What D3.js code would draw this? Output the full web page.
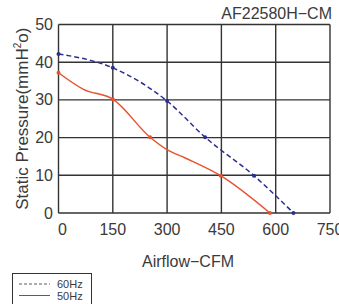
<!DOCTYPE html>
<html>
<head>
<meta charset="utf-8">
<script src="https://cdn.jsdelivr.net/npm/d3@7"></script>
<style>
  body { margin: 0; background: #fff; }
  svg { display: block; }
  text { font-family: "Liberation Sans", Arial, sans-serif; fill: #3a3a3a; }
</style>
</head>
<body>
<svg class="chart"></svg>
<script>
// airflow (CFM) / static pressure (mmH2O)
var flow60 = [0, 150, 300, 405, 540, 649];
var press60 = [42.2, 38.5, 29.7, 20.1, 9.9, 0];
var flow50 = [0, 150, 253, 448, 584];
var press50 = [37.2, 30.2, 20.1, 9.9, 0];
// extra points read along the 50Hz curve between the markers
var flow50Curve = [0, 69, 150, 253, 300, 350, 448, 584];
var press50Curve = [37.2, 32.8, 30.2, 20.1, 16.8, 14.6, 9.9, 0];
var xTicks = [0, 150, 300, 450, 600, 750];
var yTicks = [0, 10, 20, 30, 40, 50];
var seriesNames = ["60Hz", "50Hz"];

var width = 339, height = 304;
var margin = {top: 24.5, right: 9, bottom: 91, left: 58.5};

var svg = d3.select(".chart")
    .attr("width", width)
    .attr("height", height);

var x = d3.scaleLinear().domain([0, 750]).range([margin.left, width - margin.right]);
var y = d3.scaleLinear().domain([0, 50]).range([height - margin.bottom, margin.top]);

// grid
var grid = svg.append("g").attr("stroke", "#333").attr("stroke-width", 1.4);
grid.selectAll(".vx").data(xTicks).enter().append("line")
    .attr("x1", d => x(d)).attr("x2", d => x(d))
    .attr("y1", y(0)).attr("y2", y(50));
grid.selectAll(".hy").data(yTicks).enter().append("line")
    .attr("x1", x(0)).attr("x2", x(750))
    .attr("y1", d => y(d)).attr("y2", d => y(d));

// tick labels
svg.selectAll(".ylab").data(yTicks).enter().append("text")
    .attr("x", 53).attr("y", d => y(d) + 5.5)
    .attr("text-anchor", "end")
    .style("font-size", "16px")
    .text(d => d);
svg.selectAll(".xlab").data(xTicks).enter().append("text")
    .attr("x", d => x(d) + (d === 0 ? 4 : 0)).attr("y", 235)
    .attr("text-anchor", "middle")
    .style("font-size", "16px")
    .text(d => d);

// axis titles
svg.append("text")
    .attr("transform", "translate(28," + ((y(0) + y(50)) / 2) + ") rotate(-90)")
    .attr("text-anchor", "middle")
    .style("font-size", "17px")
    .html('Static Pressure(mmH<tspan dy="-7" style="font-size:10px">2</tspan><tspan dy="7">o)</tspan>');
svg.append("text")
    .attr("x", 188).attr("y", 267)
    .attr("text-anchor", "middle")
    .style("font-size", "16px")
    .text("Airflow\u2212CFM");
svg.append("text")
    .attr("x", 332).attr("y", 18.5)
    .attr("text-anchor", "end")
    .style("font-size", "16px")
    .text("AF22580H\u2212CM");

// curves
var line = d3.line()
    .x(d => x(d[0])).y(d => y(d[1]))
    .curve(d3.curveMonotoneX);

var s60 = d3.zip(flow60, press60), s50 = d3.zip(flow50, press50);

svg.append("path").datum(d3.zip(flow50Curve, press50Curve))
    .attr("d", line).attr("fill", "none")
    .attr("stroke", "#e8532f").attr("stroke-width", 1.5);
svg.selectAll(".p50").data(s50).enter().append("circle")
    .attr("cx", d => x(d[0])).attr("cy", d => y(d[1])).attr("r", 2)
    .attr("fill", "#e8532f");

svg.append("path").datum(s60)
    .attr("d", line).attr("fill", "none")
    .attr("stroke", "#2b2f8f").attr("stroke-width", 1.5)
    .attr("stroke-dasharray", "5,3");
svg.selectAll(".p60").data(s60).enter().append("circle")
    .attr("cx", d => x(d[0])).attr("cy", d => y(d[1])).attr("r", 2)
    .attr("fill", "#2b2f8f");

// legend
var lg = svg.append("g");
lg.append("rect").attr("x", 12.5).attr("y", 273.5).attr("width", 79).attr("height", 40)
    .attr("fill", "none").attr("stroke", "#333").attr("stroke-width", 1);
lg.selectAll(".ll").data(seriesNames).enter().append("line")
    .attr("x1", 19).attr("x2", 50)
    .attr("y1", (d, i) => 284 + i * 11.5).attr("y2", (d, i) => 284 + i * 11.5)
    .attr("stroke", "#333").attr("stroke-width", 0.8)
    .attr("stroke-dasharray", (d, i) => i === 0 ? "3,2" : null);
lg.selectAll(".lt").data(seriesNames).enter().append("text")
    .attr("x", 57).attr("y", (d, i) => 288 + i * 11.5)
    .style("font-size", "11px")
    .text(d => d);
</script>
</body>
</html>
